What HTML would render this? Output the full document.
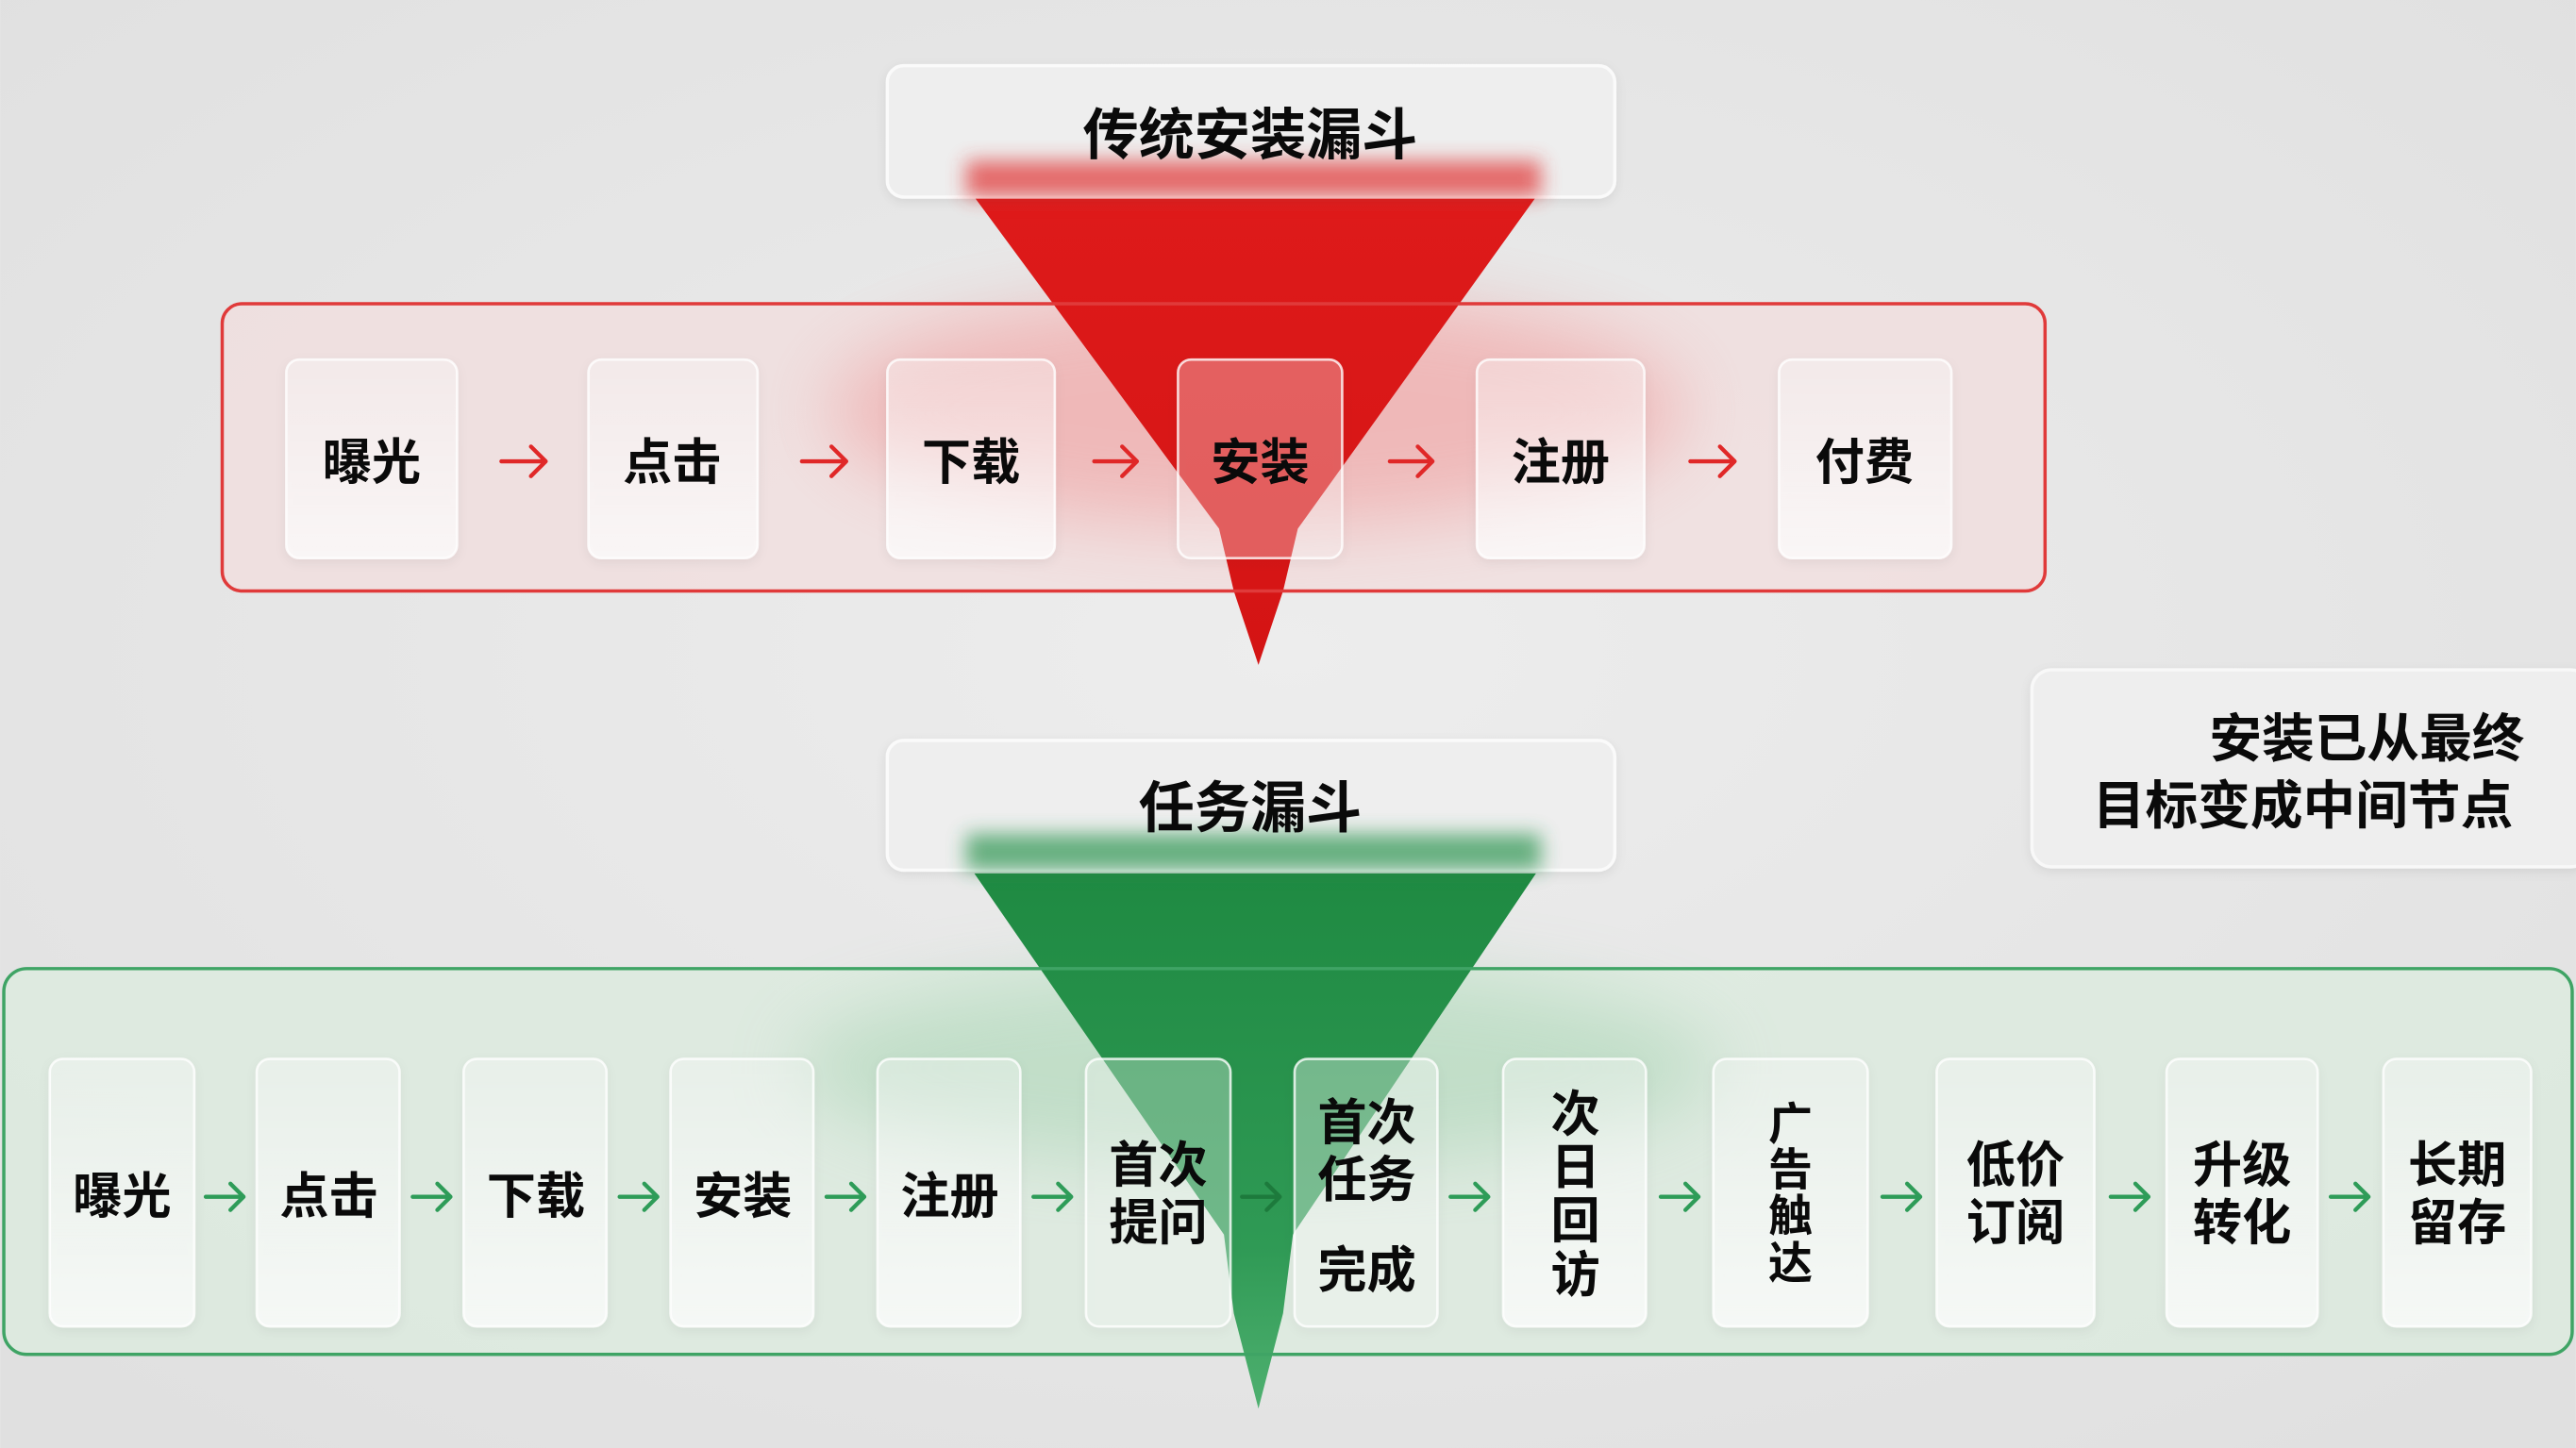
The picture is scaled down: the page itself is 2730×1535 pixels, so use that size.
<!DOCTYPE html>
<html><head><meta charset="utf-8"><style>
html,body{margin:0;padding:0;background:#e5e5e5;}
svg{display:block;}
text{font-family:"Liberation Sans","Noto Sans CJK SC",sans-serif;font-weight:700;fill:#0a0a0a;text-anchor:middle;}
</style></head><body>
<svg width="2730" height="1535" viewBox="0 0 1568 882" xmlns="http://www.w3.org/2000/svg">
<defs>
<radialGradient id="bg" cx="0.5" cy="0.45" r="0.7">
<stop offset="0" stop-color="#ededed"/><stop offset="1" stop-color="#e0e0e0"/>
</radialGradient>
<filter id="blur6" x="-20%" y="-100%" width="140%" height="300%"><feGaussianBlur stdDeviation="6"/></filter>
<filter id="blur20" x="-30%" y="-30%" width="160%" height="160%"><feGaussianBlur stdDeviation="22"/></filter>
<filter id="sh" x="-20%" y="-20%" width="140%" height="140%"><feDropShadow dx="0" dy="2" stdDeviation="3" flood-color="#000" flood-opacity="0.08"/></filter>
<linearGradient id="node" x1="0" y1="0" x2="0" y2="1">
<stop offset="0" stop-color="#fff" stop-opacity="0.35"/><stop offset="0.6" stop-color="#fff" stop-opacity="0.6"/><stop offset="1" stop-color="#fff" stop-opacity="0.75"/>
</linearGradient>
<linearGradient id="redf" x1="0" y1="0" x2="0" y2="1">
<stop offset="0" stop-color="#de1a1a"/><stop offset="1" stop-color="#d41414"/>
</linearGradient>
<linearGradient id="grnf" x1="0" y1="0" x2="0" y2="1">
<stop offset="0" stop-color="#1f8a42"/><stop offset="0.7" stop-color="#2f9a55"/><stop offset="1" stop-color="#4fb070"/>
</linearGradient>
</defs>
<rect width="1568" height="882" fill="url(#bg)"/>

<rect x="135" y="185" width="1110" height="175" rx="12" fill="#f1dede" fill-opacity="0.75"/>
<ellipse cx="765" cy="250" rx="260" ry="70" fill="#e88" opacity="0.45" filter="url(#blur20)"/>
<polygon points="593,120 935,120 790,322 781,360 766,405 751,360 742,322" fill="url(#redf)"/>
<rect x="135" y="185" width="1110" height="175" rx="12" fill="none" stroke="#e03a3a" stroke-width="2"/>
<rect x="540" y="40" width="443" height="80" rx="10" fill="#eeeeee" stroke="#fafafa" stroke-width="2" filter="url(#sh)"/>
<rect x="588" y="98" width="350" height="22" fill="#e03030" opacity="0.7" filter="url(#blur6)"/>
<text x="761" y="94" font-size="34">传统安装漏斗</text>
<g filter="url(#sh)">
<rect x="174" y="219" width="104" height="121" rx="8" fill="url(#node)" stroke="#fff" stroke-opacity="0.8" stroke-width="1.5"/>
<rect x="358" y="219" width="103" height="121" rx="8" fill="url(#node)" stroke="#fff" stroke-opacity="0.8" stroke-width="1.5"/>
<rect x="540" y="219" width="102" height="121" rx="8" fill="url(#node)" stroke="#fff" stroke-opacity="0.8" stroke-width="1.5"/>
<rect x="717" y="219" width="100" height="121" rx="8" fill="#fff" fill-opacity="0.3" stroke="#fff" stroke-opacity="0.8" stroke-width="1.5"/>
<rect x="899" y="219" width="102" height="121" rx="8" fill="url(#node)" stroke="#fff" stroke-opacity="0.8" stroke-width="1.5"/>
<rect x="1083" y="219" width="105" height="121" rx="8" fill="url(#node)" stroke="#fff" stroke-opacity="0.8" stroke-width="1.5"/>
</g>
<g font-size="30">
<text x="226" y="292">曝光</text>
<text x="409" y="292">点击</text>
<text x="591" y="292">下载</text>
<text x="767" y="292">安装</text>
<text x="950" y="292">注册</text>
<text x="1135" y="292">付费</text>
</g>
<g stroke="#e02828" stroke-width="2.5" fill="none" stroke-linecap="round" stroke-linejoin="round">
<path d="M305 281 H332 M323 272 L332 281 L323 290"/>
<path d="M488 281 H515 M506 272 L515 281 L506 290"/>
<path d="M666 281 H692 M683 272 L692 281 L683 290"/>
<path d="M846 281 H872 M863 272 L872 281 L863 290"/>
<path d="M1029 281 H1056 M1047 272 L1056 281 L1047 290"/>
</g>

<rect x="1237" y="408" width="340" height="120" rx="12" fill="#eeeeee" stroke="#f8f8f8" stroke-width="2" filter="url(#sh)"/>
<text x="1537" y="461" font-size="32" style="text-anchor:end">安装已从最终</text>
<text x="1530" y="502" font-size="32" style="text-anchor:end">目标变成中间节点</text>

<rect x="2" y="590" width="1564" height="235" rx="14" fill="#dcebdf" fill-opacity="0.8"/>
<ellipse cx="765" cy="650" rx="280" ry="60" fill="#8cc79c" opacity="0.35" filter="url(#blur20)"/>
<polygon points="593,532 935,532 787,752 781,800 766,858 751,800 745,752" fill="url(#grnf)"/>
<rect x="2" y="590" width="1564" height="235" rx="14" fill="none" stroke="#3fa465" stroke-width="2"/>
<rect x="540" y="451" width="443" height="79" rx="10" fill="#eeeeee" stroke="#fafafa" stroke-width="2" filter="url(#sh)"/>
<rect x="588" y="508" width="350" height="22" fill="#2a9450" opacity="0.7" filter="url(#blur6)"/>
<text x="761" y="504" font-size="34">任务漏斗</text>

<g filter="url(#sh)" stroke="#fff" stroke-opacity="0.8" stroke-width="1.5">
<rect x="30" y="645" width="88" height="163" rx="8" fill="url(#node)"/>
<rect x="156" y="645" width="87" height="163" rx="8" fill="url(#node)"/>
<rect x="282" y="645" width="87" height="163" rx="8" fill="url(#node)"/>
<rect x="408" y="645" width="87" height="163" rx="8" fill="url(#node)"/>
<rect x="534" y="645" width="87" height="163" rx="8" fill="url(#node)"/>
<rect x="661" y="645" width="88" height="163" rx="8" fill="#fff" fill-opacity="0.3"/>
<rect x="788" y="645" width="87" height="163" rx="8" fill="#fff" fill-opacity="0.35"/>
<rect x="915" y="645" width="87" height="163" rx="8" fill="url(#node)"/>
<rect x="1043" y="645" width="94" height="163" rx="8" fill="url(#node)"/>
<rect x="1179" y="645" width="96" height="163" rx="8" fill="url(#node)"/>
<rect x="1319" y="645" width="92" height="163" rx="8" fill="url(#node)"/>
<rect x="1451" y="645" width="90" height="163" rx="8" fill="url(#node)"/>
</g>
<g font-size="30">
<text x="74" y="739">曝光</text>
<text x="200" y="739">点击</text>
<text x="326" y="739">下载</text>
<text x="452" y="739">安装</text>
<text x="578" y="739">注册</text>
<text x="705" y="720">首次</text>
<text x="705" y="755">提问</text>
<text x="832" y="694">首次</text>
<text x="832" y="729">任务</text>
<text x="832" y="784">完成</text>
<text x="959" y="689">次</text>
<text x="959" y="721">日</text>
<text x="959" y="754">回</text>
<text x="959" y="787">访</text>
<text x="1090" y="694" font-size="27">广</text>
<text x="1090" y="722" font-size="27">告</text>
<text x="1090" y="750" font-size="27">触</text>
<text x="1090" y="779" font-size="27">达</text>
<text x="1227" y="720">低价</text>
<text x="1227" y="755">订阅</text>
<text x="1365" y="720">升级</text>
<text x="1365" y="755">转化</text>
<text x="1496" y="720">长期</text>
<text x="1496" y="755">留存</text>
</g>
<g stroke="#2e9c58" stroke-width="2.5" fill="none" stroke-linecap="round" stroke-linejoin="round">
<path d="M125 729 H148 M140 721 L148 729 L140 737"/>
<path d="M251 729 H274 M266 721 L274 729 L266 737"/>
<path d="M377 729 H400 M392 721 L400 729 L392 737"/>
<path d="M503 729 H526 M518 721 L526 729 L518 737"/>
<path d="M629 729 H652 M644 721 L652 729 L644 737"/>
<path d="M756 729 H779 M771 721 L779 729 L771 737" stroke="#1d7a3c"/>
<path d="M883 729 H906 M898 721 L906 729 L898 737"/>
<path d="M1011 729 H1034 M1026 721 L1034 729 L1026 737"/>
<path d="M1146 729 H1169 M1161 721 L1169 729 L1161 737"/>
<path d="M1285 729 H1308 M1300 721 L1308 729 L1300 737"/>
<path d="M1419 729 H1442 M1434 721 L1442 729 L1434 737"/>
</g>
</svg>
</body></html>
